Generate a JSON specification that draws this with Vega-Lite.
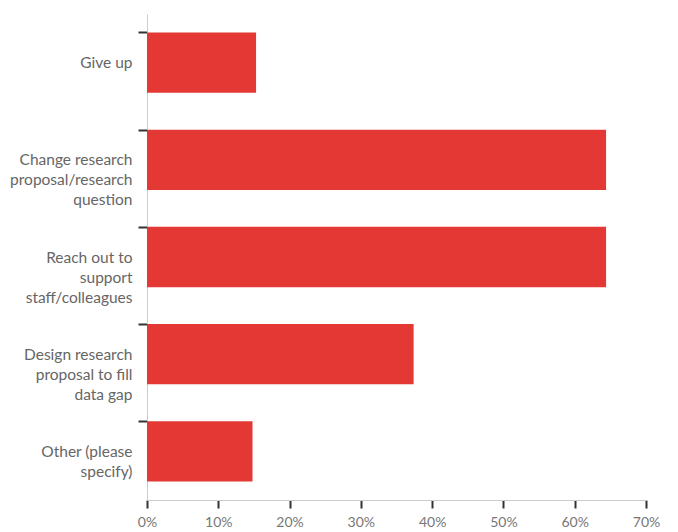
{
  "$schema": "https://vega.github.io/schema/vega-lite/v6.json",
  "autosize": "none",
  "padding": {"left": 147, "top": 14, "right": 32, "bottom": 32},
  "width": 499,
  "height": 486,
  "background": "white",
  "config": {
    "view": {"stroke": null},
    "font": "Lato"
  },
  "data": {
    "values": [
      {"response": "Give up", "pct": 15.3},
      {"response": "Change research\nproposal/research\nquestion", "pct": 64.4},
      {"response": "Reach out to\nsupport\nstaff/colleagues", "pct": 64.4},
      {"response": "Design research\nproposal to fill\ndata gap", "pct": 37.4},
      {"response": "Other (please\nspecify)", "pct": 14.8}
    ]
  },
  "mark": {"type": "bar", "color": "#E33834"},
  "encoding": {
    "y": {
      "field": "response",
      "type": "nominal",
      "sort": null,
      "scale": {"paddingInner": 0.38, "paddingOuter": 0.19},
      "axis": {
        "title": null,
        "bandPosition": 0,
        "labelExpr": "split(datum.label, '\\n')",
        "labelFont": "Lato",
        "labelFontSize": 15.5,
        "labelColor": "#666666",
        "labelLineHeight": 20,
        "labelPadding": 6,
        "tickSize": 9,
        "tickOffset": 0,
        "tickColor": "#333333",
        "tickWidth": 2,
        "domainColor": "#cccccc",
        "domainWidth": 1,
        "grid": false,
        "labelLimit": 200
      }
    },
    "x": {
      "field": "pct",
      "type": "quantitative",
      "scale": {"domain": [0, 70], "nice": false},
      "axis": {
        "title": null,
        "values": [0, 10, 20, 30, 40, 50, 60, 70],
        "labelExpr": "datum.value + '%'",
        "labelFont": "Lato",
        "labelFontSize": 14,
        "labelColor": "#777777",
        "labelPadding": 7,
        "tickSize": 8,
        "tickColor": "#333333",
        "tickWidth": 2,
        "domainColor": "#cccccc",
        "domainWidth": 1,
        "grid": false,
        "labelFlush": false,
        "labelOverlap": false
      }
    }
  }
}
